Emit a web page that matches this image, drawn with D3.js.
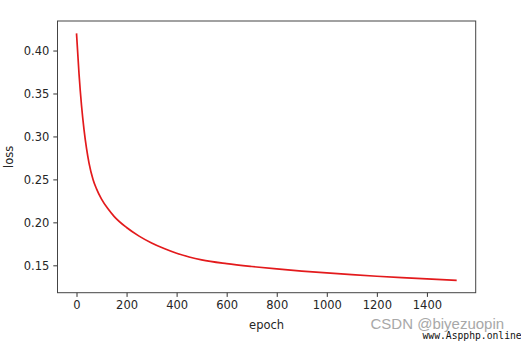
<!DOCTYPE html>
<html>
<head>
<meta charset="utf-8">
<script src="https://cdn.jsdelivr.net/npm/d3@7"></script>
<style>
  body { margin: 0; background: #fff; }
  #chart svg { display: block; }
  .tick text { font-family: "DejaVu Sans", sans-serif; font-size: 11.5px; fill: #262626; }
  .tick line { stroke: #333; }
</style>
</head>
<body>
<div id="chart"></div>
<script>
// loss per epoch
const epochs = [0, 10, 20, 30, 40, 50, 66, 80, 100, 125, 150, 200, 250, 300, 350, 400, 450, 500, 600, 700, 800, 900, 1000, 1100, 1200, 1300, 1400, 1519];
const losses = [0.420, 0.373, 0.336, 0.308, 0.286, 0.269, 0.250, 0.239, 0.227, 0.216, 0.207, 0.194, 0.184, 0.176, 0.1695, 0.1640, 0.1597, 0.1563, 0.1519, 0.1486, 0.1458, 0.1433, 0.1411, 0.1391, 0.1373, 0.1357, 0.1342, 0.1325];
const xTicks = [0, 200, 400, 600, 800, 1000, 1200, 1400];
const yTicks = [0.15, 0.20, 0.25, 0.30, 0.35, 0.40];

const width = 521, height = 342;
const plotLeft = 57.5, plotRight = 475.7, plotTop = 21, plotBottom = 292.7;

const svg = d3.select("#chart")
    .append("svg")
    .attr("width", width)
    .attr("height", height);

const data = epochs.map((e, i) => ({epoch: e, loss: losses[i]}));

// matplotlib style 5% margins
const xSpan = d3.max(epochs) - d3.min(epochs);
const ySpan = d3.max(losses) - d3.min(losses);
const xScale = d3.scaleLinear()
    .domain([d3.min(epochs) - xSpan * 0.05, d3.max(epochs) + xSpan * 0.05])
    .range([plotLeft, plotRight]);
const yScale = d3.scaleLinear()
    .domain([d3.min(losses) - ySpan * 0.05, d3.max(losses) + ySpan * 0.05])
    .range([plotBottom, plotTop]);

svg.append("path")
    .datum(data)
    .attr("fill", "none")
    .attr("stroke", "#e31a1c")
    .attr("stroke-width", 1.7)
    .attr("d", d3.line()
        .x(d => xScale(d.epoch))
        .y(d => yScale(d.loss))
        .curve(d3.curveMonotoneX));

const xAxis = d3.axisBottom(xScale)
    .tickValues(xTicks)
    .tickFormat(d3.format("d"))
    .tickSizeInner(4.2)
    .tickSizeOuter(0)
    .tickPadding(4);
const yAxis = d3.axisLeft(yScale)
    .tickValues(yTicks)
    .tickFormat(d3.format(".2f"))
    .tickSizeInner(4.2)
    .tickSizeOuter(0)
    .tickPadding(4);

svg.append("g")
    .attr("transform", "translate(0," + plotBottom + ")")
    .call(xAxis)
    .call(g => g.select(".domain").remove());
svg.append("g")
    .attr("transform", "translate(" + plotLeft + ",0)")
    .call(yAxis)
    .call(g => g.select(".domain").remove());

// frame
svg.append("rect")
    .attr("x", plotLeft)
    .attr("y", plotTop)
    .attr("width", plotRight - plotLeft)
    .attr("height", plotBottom - plotTop)
    .attr("fill", "none")
    .attr("stroke", "#444")
    .attr("stroke-width", 1);

svg.append("text")
    .attr("x", (plotLeft + plotRight) / 2)
    .attr("y", 328.5)
    .attr("text-anchor", "middle")
    .attr("font-family", "DejaVu Sans, sans-serif")
    .attr("font-size", "11.5px")
    .attr("fill", "#262626")
    .text("epoch");

svg.append("text")
    .attr("transform", "translate(12.5," + (plotTop + plotBottom) / 2 + ") rotate(-90)")
    .attr("text-anchor", "middle")
    .attr("font-family", "DejaVu Sans, sans-serif")
    .attr("font-size", "11.5px")
    .attr("fill", "#262626")
    .text("loss");

// watermarks
svg.append("text")
    .attr("x", 370.5)
    .attr("y", 329)
    .attr("font-family", "Liberation Sans, Arial, sans-serif")
    .attr("font-size", "15px")
    .attr("fill", "#a8a8a8")
    .text("CSDN @biyezuopin");

svg.append("text")
    .attr("x", 422.5)
    .attr("y", 338.5)
    .attr("font-family", "DejaVu Sans Mono, monospace")
    .attr("font-size", "9.7px")
    .attr("fill", "#111")
    .text("www.Aspphp.online");
</script>
</body>
</html>
